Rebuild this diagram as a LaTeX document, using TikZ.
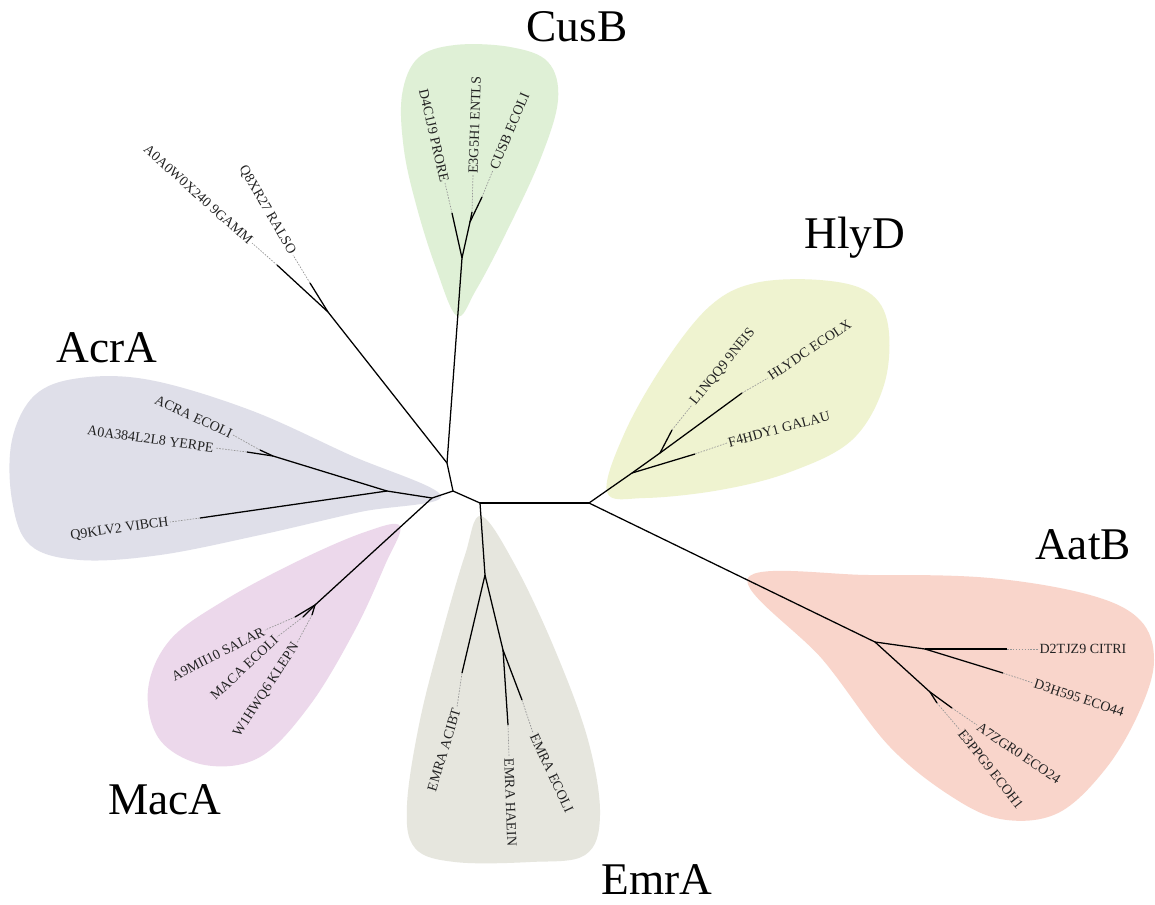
\documentclass[tikz,border=0pt]{standalone}
\usepackage{fontspec}
\setmainfont{Liberation Serif}
\usetikzlibrary{positioning,backgrounds}
\definecolor{cladecusb}{RGB}{223, 240, 214}
\definecolor{cladehlyd}{RGB}{239, 243, 208}
\definecolor{cladeacra}{RGB}{223, 223, 233}
\definecolor{clademaca}{RGB}{236, 216, 235}
\definecolor{cladeemra}{RGB}{230, 230, 222}
\definecolor{cladeaatb}{RGB}{249, 213, 203}
\definecolor{treetext}{RGB}{34, 34, 34}
\definecolor{treedot}{RGB}{150, 150, 150}

\begin{document}
\begin{tikzpicture}[x=0.75pt, y=-0.75pt,
		% Node styles
		leaf/.style={font=\fontsize{10.5}{12}\selectfont, text=treetext, inner sep=1pt},
		leafl/.style={leaf, anchor=east, rotate=#1},
		leafr/.style={leaf, anchor=west, rotate=#1},
		clade/.style={font=\fontsize{34}{40}\selectfont, inner sep=0pt},
		% Line styles
		branch/.style={draw=black, line width=0.95pt},
		leader/.style={draw=treedot, dash pattern=on 1.2pt off 1pt, line width=0.5pt},
		blob/.style={fill=#1, draw=none},
	]

	\useasboundingbox (0,0) rectangle (1155,904);

	% Inner nodes of the tree
	\coordinate (n_top) at (447,463);
	\coordinate (n_mid) at (453,491);
	\coordinate (n_emr) at (480,503);
	\coordinate (n_right) at (589,503);
	\coordinate (n_acrmac) at (432,498);
	\coordinate (n_acr) at (387,491);
	\coordinate (n_acr2) at (273,456);
	\coordinate (n_mac) at (315,605);
	\coordinate (n_q) at (328,312);
	\coordinate (n_cus1) at (462,258);
	\coordinate (n_cus2) at (470,222);
	\coordinate (n_hly1) at (632,473);
	\coordinate (n_hly2) at (660,453);
	\coordinate (n_aat1) at (875,642);
	\coordinate (n_aat2) at (925,649);
	\coordinate (n_aat3) at (930,692);
	\coordinate (n_emr1) at (485,575);
	\coordinate (n_emr2) at (503,650);

	% Branch tips
	\coordinate (t_a0a0) at (277,265);
	\coordinate (t_q8xr) at (310,283);
	\coordinate (t_d4c1) at (452,213);
	\coordinate (t_e3g5) at (472,212);
	\coordinate (t_cusb) at (482,197);
	\coordinate (t_l1nq) at (672,430);
	\coordinate (t_hlyd) at (742,393);
	\coordinate (t_f4hd) at (695,454);
	\coordinate (t_d2tj) at (1007,649);
	\coordinate (t_d3h5) at (1003,673);
	\coordinate (t_a7zg) at (952,708);
	\coordinate (t_e3pp) at (937,703);
	\coordinate (t_acib) at (462,673);
	\coordinate (t_haei) at (508,725);
	\coordinate (t_ecol) at (522,700);
	\coordinate (t_salar) at (295,617);
	\coordinate (t_maca) at (303,617);
	\coordinate (t_w1hw) at (312,615);
	\coordinate (t_acra) at (260,450);
	\coordinate (t_yerpe) at (247,452);
	\coordinate (t_q9kl) at (200,518);

	% Leaf labels
	\node[leafl=-42] (a0a0) at (252,243) {A0A0W0X240 9GAMM};
	\node[leafl=-60] (q8xr) at (293,255) {Q8XR27 RALSO};
	\node[leafl=-77] (d4c1) at (445,183) {D4C1J9 PRORE};
	\node[leafr=88] (e3g5) at (473,175) {E3G5H1 ENTLS};
	\node[leafr=67] (cusb) at (493,170) {CUSB ECOLI};
	\node[leafr=51] (l1nq) at (692,405) {L1NQQ9 9NEIS};
	\node[leafr=34] (hlyd) at (768,378) {HLYDC ECOLX};
	\node[leafr=15] (f4hd) at (727,443) {F4HDY1 GALAU};
	\node[leafr=0] (d2tj) at (1038,649) {D2TJZ9 CITRI};
	\node[leafr=-18] (d3h5) at (1033,683) {D3H595 ECO44};
	\node[leafr=-34] (a7zg) at (977,725) {A7ZGR0 ECO24};
	\node[leafr=-52] (e3pp) at (960,730) {E3PPG9 ECOH1};
	\node[leafl=73] (acib) at (457,707) {EMRA ACIBT};
	\node[leafr=-88] (haei) at (509,757) {EMRA HAEIN};
	\node[leafr=-65] (ecol) at (533,733) {EMRA ECOLI};
	\node[leafl=27] (salar) at (265,630) {A9MII10 SALAR};
	\node[leafl=43] (maca) at (277,637) {MACA ECOLI};
	\node[leafl=57] (w1hw) at (297,643) {W1HWQ6 KLEPN};
	\node[leafl=-25] (acra) at (233,435) {ACRA ECOLI};
	\node[leafl=-8] (yerpe) at (215,448) {A0A384L2L8 YERPE};
	\node[leafl=8] (q9kl) at (170,522) {Q9KLV2 VIBCH};

	% Clade names
	\node[clade] (cusb_name) at (577,27) {CusB};
	\node[clade] (hlyd_name) at (855,238) {HlyD};
	\node[clade] (acra_name) at (107,348) {AcrA};
	\node[clade] (aatb_name) at (1083,545) {AatB};
	\node[clade] (maca_name) at (165,800) {MacA};
	\node[clade] (emra_name) at (657,880) {EmrA};

	% Branches
	\draw[branch] (n_top) -- (n_q);
	\draw[branch] (n_top) -- (n_cus1);
	\draw[branch] (n_top) -- (n_mid);
	\draw[branch] (n_mid) -- (n_acrmac);
	\draw[branch] (n_mid) -- (n_emr);
	\draw[branch] (n_emr) -- (n_right);
	\draw[branch] (n_emr) -- (n_emr1);
	\draw[branch] (n_right) -- (n_hly1);
	\draw[branch] (n_right) -- (n_aat1);
	\draw[branch] (n_acrmac) -- (n_acr);
	\draw[branch] (n_acrmac) -- (n_mac);
	\draw[branch] (n_acr) -- (n_acr2);
	\draw[branch] (n_acr) -- (t_q9kl);
	\draw[branch] (n_acr2) -- (t_acra);
	\draw[branch] (n_acr2) -- (t_yerpe);
	\draw[branch] (n_mac) -- (t_salar);
	\draw[branch] (n_mac) -- (t_maca);
	\draw[branch] (n_mac) -- (t_w1hw);
	\draw[branch] (n_q) -- (t_a0a0);
	\draw[branch] (n_q) -- (t_q8xr);
	\draw[branch] (n_cus1) -- (t_d4c1);
	\draw[branch] (n_cus1) -- (n_cus2);
	\draw[branch] (n_cus2) -- (t_e3g5);
	\draw[branch] (n_cus2) -- (t_cusb);
	\draw[branch] (n_hly1) -- (t_f4hd);
	\draw[branch] (n_hly1) -- (n_hly2);
	\draw[branch] (n_hly2) -- (t_l1nq);
	\draw[branch] (n_hly2) -- (t_hlyd);
	\draw[branch] (n_aat1) -- (n_aat2);
	\draw[branch] (n_aat1) -- (n_aat3);
	\draw[branch] (n_aat2) -- (t_d2tj);
	\draw[branch] (n_aat2) -- (t_d3h5);
	\draw[branch] (n_aat3) -- (t_a7zg);
	\draw[branch] (n_aat3) -- (t_e3pp);
	\draw[branch] (n_emr1) -- (t_acib);
	\draw[branch] (n_emr1) -- (n_emr2);
	\draw[branch] (n_emr2) -- (t_haei);
	\draw[branch] (n_emr2) -- (t_ecol);

	% Dotted leaders to the labels
	\foreach \tip/\side in {a0a0/east, q8xr/east, d4c1/east, e3g5/west, cusb/west,
			l1nq/west, hlyd/west, f4hd/west, d2tj/west, d3h5/west, a7zg/west,
			e3pp/west, acib/east, haei/west, ecol/west, salar/east, maca/east,
			w1hw/east, acra/east, yerpe/east, q9kl/east}
		\draw[leader] (t_\tip) -- (\tip.\side);

	% Clade shading in background
	\begin{pgfonlayer}{background}
		\fill[white] (0,0) rectangle (1155,904);
		\fill[blob=cladecusb] plot[smooth cycle, tension=0.6] coordinates {(457,316) (436,268) (417,208) (404,150) (402,95) (418,58) (455,45) (510,47) (548,62) (558,100) (540,160) (505,235) (476,290)};
		\fill[blob=cladehlyd] plot[smooth cycle, tension=0.6] coordinates {(607,492) (625,432) (665,362) (710,306) (755,283) (820,280) (868,292) (888,325) (884,385) (852,440) (790,472) (720,490) (645,498)};
		\fill[blob=cladeacra] plot[smooth cycle, tension=0.6] coordinates {(441,496) (350,455) (250,410) (150,380) (80,378) (35,395) (12,440) (12,500) (30,545) (80,560) (160,555) (260,535) (360,512)};
		\fill[blob=clademaca] plot[smooth cycle, tension=0.6] coordinates {(400,526) (385,565) (355,630) (310,705) (260,757) (205,765) (160,740) (148,690) (170,640) (225,600) (300,560) (365,532)};
		\fill[blob=cladeemra] plot[smooth cycle, tension=0.6] coordinates {(481,516) (515,565) (555,650) (588,740) (600,815) (585,855) (530,862) (455,862) (415,848) (407,805) (420,720) (443,630) (465,555)};
		\fill[blob=cladeaatb] plot[smooth cycle, tension=0.6] coordinates {(748,578) (823,660) (890,747) (957,800) (1007,820) (1060,812) (1107,767) (1140,710) (1154,660) (1140,620) (1090,595) (990,578) (870,575)};
	\end{pgfonlayer}

\end{tikzpicture}
\end{document}
